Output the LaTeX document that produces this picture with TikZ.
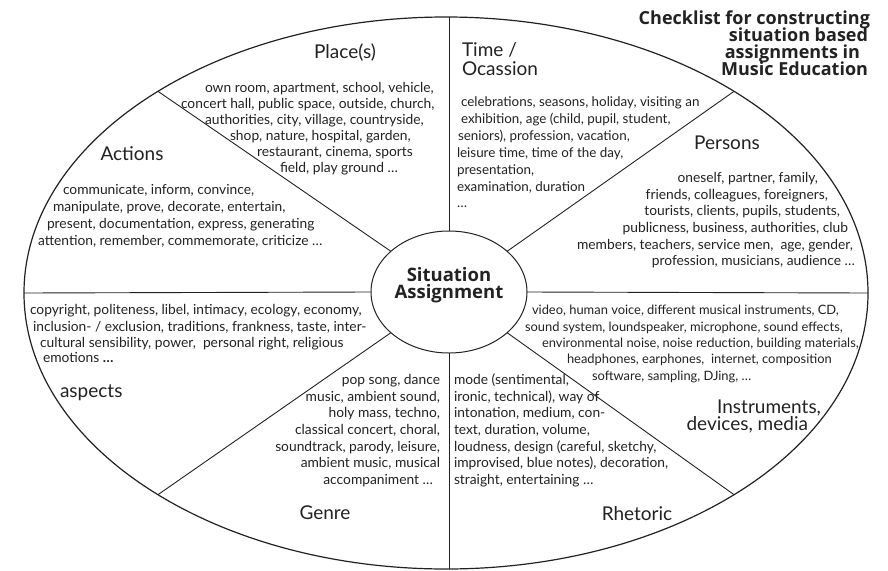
\documentclass[tikz,border=0pt]{standalone}
\usepackage{fontspec}
\setmainfont{Lato}
\newfontfamily\osans{Open Sans}
\usetikzlibrary{shapes.geometric}
\definecolor{ink}{HTML}{222222}
\begin{document}
\begin{tikzpicture}[x=1pt,y=-1pt,
  every node/.style={inner sep=0pt, outer sep=0pt, text=ink},
  body/.style={font=\fontsize{13.8}{16}\selectfont},
  tbody/.style={font=\fontsize{13.4}{16}\selectfont},
  ibody/.style={font=\fontsize{12.9}{16}\selectfont},
  head/.style={font=\fontsize{19}{16}\selectfont},
  ttl/.style={font=\fontsize{18}{17}\osans\bfseries\selectfont, anchor=base east},
  ctr/.style={font=\fontsize{18.5}{17}\osans\bfseries\selectfont, anchor=base},
  ring/.style={draw=ink, ellipse, line width=1.2pt},
  spoke/.style={draw=ink, line width=0.9pt}]
\useasboundingbox[fill=white] (0,0) rectangle (888,570);

% ellipses
\node[ring, minimum width=844pt, minimum height=552pt] (O) at (446,293) {};
\node[ring, line width=1pt, minimum width=156pt, minimum height=122pt] (I) at (449,292) {};

% spokes
\draw[spoke] (I.north) -- (I.north |- O.north);
\draw[spoke] (I.south) -- (I.south |- O.south);
\draw[spoke] (I.west) -- (O.west);
\draw[spoke] (I.east) -- (O.east);
\draw[spoke] (I.145) -- (O.145);
\draw[spoke] (I.35) -- (O.35);
\draw[spoke] (I.215) -- (O.215);
\draw[spoke] (I.325) -- (O.325);

% centre
\node[ctr] (sa1) at (449,281) {Situation};
\node[ctr] (sa2) at (449,298) {Assignment};

% title
\node[ttl] (t1) at (870,24) {Checklist for constructing};
\node[ttl] (t2) at (868,41) {situation based};
\node[ttl] (t3) at (860,58) {assignments in};
\node[ttl] (t4) at (868,75) {Music Education};

% headings
\node[head, anchor=base] (hplace) at (345,58) {Place(s)};
\node[head, anchor=base west] (htime1) at (462,56) {Time /};
\node[head, anchor=base west] (htime2) at (462,75) {Ocassion};
\node[head, anchor=base] (hpers) at (727,149) {Persons};
\node[head, anchor=base] (hact) at (132,160) {Actions};
\node[head, anchor=base west] (hasp) at (60,397) {aspects};
\node[head, anchor=base east] (hins1) at (821,413) {Instruments,};
\node[head, anchor=base east] (hins2) at (808,430) {devices, media};
\node[head, anchor=base] (hgen) at (325,519) {Genre};
\node[head, anchor=base] (hrhe) at (637,520) {Rhetoric};

% Place(s)
\foreach \x/\y/\t [count=\i] in {
  205/92/{own room, apartment, school, vehicle,},
  181/108/{concert hall, public space, outside, church,},
  205/124/{authorities, city, village, countryside,},
  230/140/{shop, nature, hospital, garden,},
  257/156/{restaurant, cinema, sports},
  280/172/{field, play ground …}}
  \node[body, anchor=base west] (pl\i) at (\x,\y) {\t};

% Time / Ocassion
\foreach \x/\y/\t [count=\i] in {
  461/106/{celebrations, seasons, holiday, visiting an},
  461/123/{exhibition, age (child, pupil, student,},
  458/140/{seniors), profession, vacation,},
  457/157/{leisure time, time of the day,},
  457/174/{presentation,},
  457/191/{examination, duration},
  457/207/{…}}
  \node[tbody, anchor=base west] (ti\i) at (\x,\y) {\t};

% Persons
\foreach \x/\y/\t [count=\i] in {
  818/182/{oneself, partner, family,},
  828/199/{friends, colleagues, foreigners,},
  840/215/{tourists, clients, pupils, students,},
  848/232/{publicness, business, authorities, club},
  853/249/{members, teachers, service men,\ \ age, gender,},
  855/265/{profession, musicians, audience …}}
  \node[body, anchor=base east] (pe\i) at (\x,\y) {\t};

% Actions
\foreach \x/\y/\t [count=\i] in {
  63/194/{communicate, inform, convince,},
  53/211/{manipulate, prove, decorate, entertain,},
  47/228/{present, documentation, express, generating},
  38/245/{attention, remember, commemorate, criticize …}}
  \node[body, anchor=base west] (ac\i) at (\x,\y) {\t};

% aspects
\foreach \x/\y/\t [count=\i] in {
  30/314/{copyright, politeness, libel, intimacy, ecology, economy,},
  33/331/{inclusion- / exclusion, traditions, frankness, taste, inter-},
  40/347/{cultural sensibility, power,\ \ personal right, religious},
  43/362/{emotions \textbf{…}}}
  \node[body, anchor=base west] (as\i) at (\x,\y) {\t};

% Instruments, devices, media
\foreach \x/\y/\t [count=\i] in {
  532/314/{video, human voice, different musical instruments, CD,},
  525/331/{sound system, loundspeaker, microphone, sound effects,},
  542/347/{environmental noise, noise reduction, building materials,},
  567/363/{headphones, earphones,\ \ internet, composition},
  592/380/{software, sampling, DJing, …}}
  \node[ibody, anchor=base west] (in\i) at (\x,\y) {\t};

% Genre
\foreach \x/\y/\t [count=\i] in {
  440/384/{pop song, dance},
  440/401/{music, ambient sound,},
  440/417/{holy mass, techno,},
  440/434/{classical concert, choral,},
  440/451/{soundtrack, parody, leisure,},
  440/467/{ambient music, musical},
  433/484/{accompaniment …}}
  \node[body, anchor=base east] (ge\i) at (\x,\y) {\t};

% Rhetoric
\foreach \x/\y/\t [count=\i] in {
  454/384/{mode (sentimental,},
  454/401/{ironic, technical), way of},
  454/417/{intonation, medium, con-},
  454/434/{text, duration, volume,},
  454/451/{loudness, design (careful, sketchy,},
  454/467/{improvised, blue notes), decoration,},
  454/484/{straight, entertaining …}}
  \node[body, anchor=base west] (rh\i) at (\x,\y) {\t};
\end{tikzpicture}
\end{document}
